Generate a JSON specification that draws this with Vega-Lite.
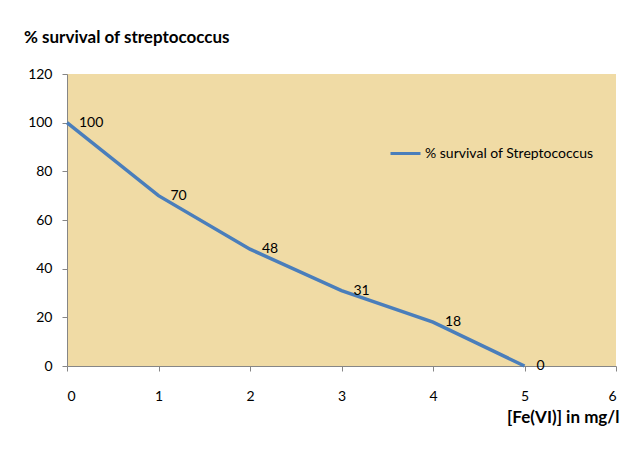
{
  "$schema": "https://vega.github.io/schema/vega-lite/v6.json",
  "autosize": {"type": "none"},
  "width": 549,
  "height": 292,
  "padding": {"left": 67, "top": 74, "right": 18, "bottom": 90},
  "background": "white",
  "title": {
    "text": "% survival of streptococcus",
    "anchor": "start",
    "frame": "group",
    "dx": -43,
    "offset": 20,
    "font": "Lato",
    "fontSize": 17,
    "fontWeight": "bold",
    "color": "#000000"
  },
  "data": {
    "values": [
      {"fe": 0, "survival": 100},
      {"fe": 1, "survival": 70},
      {"fe": 2, "survival": 48},
      {"fe": 3, "survival": 31},
      {"fe": 4, "survival": 18},
      {"fe": 5, "survival": 0}
    ]
  },
  "encoding": {
    "x": {
      "field": "fe",
      "type": "quantitative",
      "scale": {"domain": [0, 6], "nice": false, "zero": false},
      "axis": {
        "title": "[Fe(VI)] in mg/l",
        "values": [0, 1, 2, 3, 4, 5, 6],
        "grid": false,
        "domainColor": "#868686",
        "tickColor": "#868686",
        "tickSize": 5,
        "labelPadding": 18,
        "labelFont": "Lato",
        "labelFontSize": 14,
        "labelColor": "#000000",
        "titleFont": "Lato",
        "titleFontSize": 17,
        "titleFontWeight": "bold",
        "titleColor": "#000000",
        "titleAnchor": "end",
        "titleAlign": "right",
        "titleBaseline": "middle",
        "titleX": 552,
        "titleY": 51
      }
    },
    "y": {
      "field": "survival",
      "type": "quantitative",
      "scale": {"domain": [0, 120], "nice": false},
      "axis": {
        "title": null,
        "values": [0, 20, 40, 60, 80, 100, 120],
        "grid": false,
        "domainColor": "#868686",
        "tickColor": "#868686",
        "tickSize": 5,
        "labelPadding": 10,
        "labelFont": "Lato",
        "labelFontSize": 14,
        "labelColor": "#000000"
      }
    }
  },
  "layer": [
    {
      "mark": {"type": "line", "strokeWidth": 3.5},
      "encoding": {
        "color": {
          "datum": "% survival of Streptococcus",
          "scale": {"range": ["#4A7EBB"]},
          "legend": {
            "title": null,
            "orient": "none",
            "legendX": 322,
            "legendY": 63,
            "symbolType": "stroke",
            "symbolSize": 900,
            "symbolStrokeWidth": 3,
            "labelFont": "Lato",
            "labelFontSize": 14,
            "labelColor": "#000000",
            "labelOffset": 3,
            "labelLimit": 400
          }
        }
      }
    },
    {
      "mark": {"type": "text", "align": "left", "baseline": "middle", "dx": 12, "font": "Lato", "fontSize": 14, "color": "#000000"},
      "encoding": {
        "text": {"field": "survival", "type": "quantitative"}
      }
    }
  ],
  "config": {
    "view": {"fill": "#F0DBA5", "stroke": null}
  }
}
